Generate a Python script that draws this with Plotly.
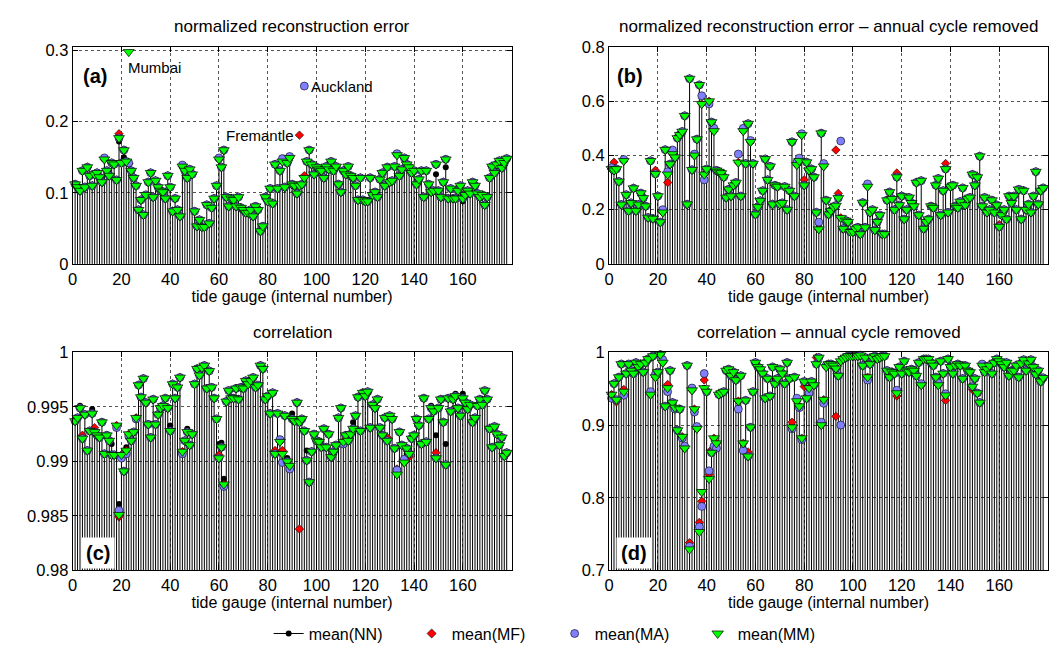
import plotly.graph_objects as go

# ---------------- data ----------------
gauges = list(range(1, 179))

# (a) normalized reconstruction error, mean(MM)
mm_a = [0.112, 0.108, 0.103, 0.131, 0.108, 0.136, 0.124, 0.110, 0.126, 0.128,
        0.122, 0.115, 0.147, 0.131, 0.124, 0.142, 0.140, 0.118, 0.177, 0.142,
        0.160, 0.144, 0.298, 0.131, 0.121, 0.110, 0.076, 0.090, 0.069, 0.097,
        0.115, 0.128, 0.094, 0.117, 0.108, 0.103, 0.101, 0.092, 0.124, 0.108,
        0.074, 0.092, 0.076, 0.067, 0.137, 0.131, 0.121, 0.133, 0.126, 0.074,
        0.053, 0.062, 0.052, 0.052, 0.083, 0.057, 0.079, 0.092, 0.110, 0.147,
        0.136, 0.160, 0.094, 0.081, 0.092, 0.090, 0.081, 0.094, 0.079, 0.076,
        0.072, 0.072, 0.076, 0.067, 0.081, 0.076, 0.046, 0.053, 0.094, 0.088,
        0.106, 0.085, 0.140, 0.106, 0.131, 0.144, 0.108, 0.142, 0.149, 0.112,
        0.110, 0.099, 0.110, 0.112, 0.121, 0.144, 0.160, 0.140, 0.126, 0.136,
        0.133, 0.131, 0.121, 0.137, 0.133, 0.144, 0.131, 0.137, 0.112, 0.101,
        0.131, 0.126, 0.137, 0.124, 0.121, 0.110, 0.090, 0.121, 0.090, 0.088,
        0.088, 0.121, 0.097, 0.101, 0.094, 0.119, 0.128, 0.110, 0.136, 0.115,
        0.117, 0.137, 0.153, 0.124, 0.133, 0.149, 0.140, 0.136, 0.128, 0.131,
        0.112, 0.119, 0.131, 0.094, 0.131, 0.112, 0.101, 0.103, 0.140, 0.103,
        0.094, 0.115, 0.147, 0.092, 0.106, 0.092, 0.092, 0.103, 0.110, 0.092,
        0.097, 0.103, 0.099, 0.115, 0.110, 0.099, 0.094, 0.097, 0.083, 0.094,
        0.121, 0.137, 0.128, 0.140, 0.145, 0.135, 0.142, 0.148]
# gauges where the other estimates differ visibly from mean(MM)
nn_a = {19: 0.172, 21: 0.150, 23: 0.140, 149: 0.126, 153: 0.136, 160: 0.088}
mf_a = {19: 0.183, 23: 0.141, 93: 0.181, 95: 0.124}
ma_a = {13: 0.149, 23: 0.142, 45: 0.139, 60: 0.149, 86: 0.148, 89: 0.151,
        95: 0.250, 133: 0.155}

# (b) normalized reconstruction error - annual cycle removed
mm_b = [0.350, 0.345, 0.350, 0.304, 0.219, 0.380, 0.255, 0.196, 0.225, 0.279,
        0.196, 0.219, 0.261, 0.243, 0.213, 0.171, 0.380, 0.167, 0.332, 0.250,
        0.154, 0.190, 0.421, 0.330, 0.368, 0.405, 0.393, 0.464, 0.476, 0.488,
        0.546, 0.220, 0.683, 0.347, 0.400, 0.460, 0.660, 0.590, 0.330, 0.350,
        0.600, 0.523, 0.490, 0.345, 0.340, 0.335, 0.320, 0.245, 0.275, 0.250,
        0.290, 0.300, 0.374, 0.250, 0.490, 0.370, 0.517, 0.450, 0.370, 0.183,
        0.210, 0.233, 0.270, 0.387, 0.310, 0.360, 0.220, 0.290, 0.285, 0.220,
        0.225, 0.285, 0.200, 0.270, 0.450, 0.250, 0.365, 0.380, 0.475, 0.290,
        0.375, 0.345, 0.350, 0.320, 0.190, 0.128, 0.482, 0.360, 0.235, 0.183,
        0.196, 0.210, 0.215, 0.243, 0.170, 0.130, 0.160, 0.155, 0.118, 0.118,
        0.130, 0.135, 0.110, 0.226, 0.135, 0.285, 0.190, 0.200, 0.125, 0.155,
        0.180, 0.110, 0.110, 0.235, 0.265, 0.240, 0.200, 0.320, 0.217, 0.250,
        0.165, 0.200, 0.245, 0.225, 0.213, 0.300, 0.180, 0.307, 0.130, 0.155,
        0.165, 0.213, 0.207, 0.290, 0.315, 0.180, 0.270, 0.350, 0.190, 0.285,
        0.290, 0.213, 0.207, 0.230, 0.280, 0.217, 0.240, 0.245, 0.330, 0.290,
        0.320, 0.397, 0.213, 0.245, 0.190, 0.200, 0.235, 0.190, 0.217, 0.137,
        0.180, 0.200, 0.165, 0.250, 0.225, 0.250, 0.200, 0.275, 0.165, 0.270,
        0.200, 0.220, 0.190, 0.250, 0.340, 0.220, 0.270, 0.280]
nn_b = {}
mf_b = {2: 0.375, 19: 0.345, 24: 0.300, 80: 0.310, 93: 0.420, 94: 0.260,
        118: 0.335, 138: 0.370, 160: 0.145}
ma_b = {1: 0.355, 6: 0.385, 22: 0.200, 24: 0.340, 26: 0.420, 35: 0.405,
        38: 0.620, 39: 0.310, 41: 0.590, 43: 0.500, 53: 0.405, 55: 0.500,
        58: 0.455, 77: 0.375, 78: 0.390, 79: 0.480, 86: 0.154, 88: 0.370,
        95: 0.453, 106: 0.295}

# (c) correlation
mm_c = [0.9937, 0.9940, 0.9949, 0.9921, 0.9943, 0.9910, 0.9928, 0.9944, 0.9927, 0.9924,
        0.9922, 0.9936, 0.9907, 0.9924, 0.9919, 0.9906, 0.9906, 0.9933, 0.9851, 0.9906,
        0.9891, 0.9910, 0.9925, 0.9919, 0.9927, 0.9940, 0.9970, 0.9959, 0.9976, 0.9954,
        0.9934, 0.9922, 0.9957, 0.9934, 0.9943, 0.9949, 0.9951, 0.9958, 0.9949, 0.9928,
        0.9971, 0.9958, 0.9968, 0.9977, 0.9909, 0.9919, 0.9927, 0.9915, 0.9925, 0.9971,
        0.9985, 0.9979, 0.9986, 0.9988, 0.9967, 0.9983, 0.9968, 0.9958, 0.9939, 0.9903,
        0.9913, 0.9879, 0.9955, 0.9965, 0.9958, 0.9958, 0.9967, 0.9957, 0.9968, 0.9967,
        0.9974, 0.9971, 0.9974, 0.9977, 0.9968, 0.9970, 0.9988, 0.9985, 0.9957, 0.9960,
        0.9944, 0.9963, 0.9907, 0.9944, 0.9918, 0.9907, 0.9942, 0.9900, 0.9896, 0.9939,
        0.9937, 0.9954, 0.9936, 0.9939, 0.9928, 0.9901, 0.9881, 0.9909, 0.9925, 0.9919,
        0.9918, 0.9913, 0.9930, 0.9913, 0.9925, 0.9904, 0.9909, 0.9915, 0.9940, 0.9949,
        0.9918, 0.9924, 0.9919, 0.9925, 0.9930, 0.9942, 0.9959, 0.9928, 0.9963, 0.9960,
        0.9964, 0.9931, 0.9952, 0.9949, 0.9957, 0.9931, 0.9924, 0.9940, 0.9919, 0.9942,
        0.9939, 0.9912, 0.9888, 0.9927, 0.9915, 0.9899, 0.9912, 0.9907, 0.9921, 0.9924,
        0.9939, 0.9933, 0.9916, 0.9958, 0.9918, 0.9939, 0.9949, 0.9946, 0.9903, 0.9949,
        0.9957, 0.9936, 0.9897, 0.9958, 0.9946, 0.9957, 0.9960, 0.9949, 0.9942, 0.9958,
        0.9954, 0.9948, 0.9952, 0.9936, 0.9940, 0.9951, 0.9957, 0.9952, 0.9965, 0.9957,
        0.9930, 0.9913, 0.9932, 0.9925, 0.9915, 0.9922, 0.9905, 0.9908]
nn_c = {3: 0.9951, 8: 0.9948, 16: 0.9916, 19: 0.9861, 22: 0.9913, 40: 0.9933,
        47: 0.9930, 60: 0.9916, 61: 0.9917, 62: 0.9884, 88: 0.9903, 90: 0.9944,
        96: 0.9910, 115: 0.9936, 137: 0.9907, 147: 0.9951, 149: 0.9924,
        153: 0.9916, 157: 0.9962, 160: 0.9962}
mf_c = {4: 0.9924, 9: 0.9931, 19: 0.9849, 60: 0.9906, 83: 0.9910, 86: 0.9910,
        93: 0.9838, 129: 0.9922, 133: 0.9893, 138: 0.9904, 149: 0.9908}
ma_c = {18: 0.9931, 19: 0.9855, 20: 0.9903, 22: 0.9907, 23: 0.9923, 26: 0.9939,
        45: 0.9907, 62: 0.9877, 85: 0.9920, 86: 0.9899, 89: 0.9893, 111: 0.9916,
        133: 0.9892, 136: 0.9902}

# (d) correlation - annual cycle removed
mm_d = [0.942, 0.957, 0.935, 0.966, 0.984, 0.946, 0.971, 0.984, 0.975, 0.971,
        0.986, 0.980, 0.984, 0.973, 0.986, 0.991, 0.942, 0.995, 0.966, 0.973,
        0.997, 0.986, 0.926, 0.951, 0.975, 0.931, 0.924, 0.893, 0.922, 0.884,
        0.868, 0.982, 0.729, 0.948, 0.922, 0.895, 0.753, 0.808, 0.951, 0.946,
        0.826, 0.862, 0.882, 0.875, 0.942, 0.944, 0.946, 0.975, 0.977, 0.968,
        0.973, 0.962, 0.933, 0.968, 0.875, 0.934, 0.857, 0.897, 0.946, 0.986,
        0.980, 0.977, 0.971, 0.937, 0.964, 0.940, 0.980, 0.957, 0.964, 0.977,
        0.971, 0.957, 0.986, 0.964, 0.897, 0.966, 0.933, 0.926, 0.882, 0.960,
        0.937, 0.951, 0.960, 0.955, 0.984, 0.993, 0.900, 0.935, 0.980, 0.984,
        0.984, 0.982, 0.978, 0.968, 0.988, 0.991, 0.993, 0.995, 0.995, 0.995,
        0.995, 0.995, 0.996, 0.982, 0.993, 0.966, 0.984, 0.993, 0.995, 0.991,
        0.993, 0.995, 0.995, 0.975, 0.966, 0.973, 0.971, 0.944, 0.980, 0.971,
        0.988, 0.975, 0.973, 0.977, 0.975, 0.968, 0.986, 0.955, 0.991, 0.991,
        0.991, 0.986, 0.982, 0.966, 0.955, 0.988, 0.971, 0.941, 0.991, 0.980,
        0.971, 0.982, 0.984, 0.982, 0.964, 0.982, 0.975, 0.973, 0.953, 0.964,
        0.944, 0.931, 0.982, 0.973, 0.977, 0.982, 0.971, 0.986, 0.991, 0.988,
        0.984, 0.980, 0.986, 0.968, 0.975, 0.975, 0.982, 0.966, 0.985, 0.990,
        0.975, 0.985, 0.990, 0.980, 0.970, 0.975, 0.960, 0.965]
nn_d = {}
mf_d = {3: 0.932, 6: 0.949, 24: 0.956, 33: 0.738, 37: 0.766, 38: 0.795,
        39: 0.962, 41: 0.832, 42: 0.866, 57: 0.863, 75: 0.904, 80: 0.953,
        85: 0.993, 93: 0.912, 118: 0.940, 138: 0.934, 149: 0.949}
ma_d = {1: 0.937, 6: 0.941, 17: 0.946, 19: 0.970, 22: 0.990, 24: 0.946,
        27: 0.922, 30: 0.882, 31: 0.871, 33: 0.733, 34: 0.951, 35: 0.918,
        36: 0.898, 37: 0.760, 38: 0.788, 39: 0.971, 41: 0.837, 43: 0.871,
        44: 0.868, 53: 0.922, 55: 0.865, 75: 0.895, 77: 0.937, 78: 0.924,
        79: 0.880, 82: 0.944, 87: 0.904, 88: 0.930, 89: 0.982, 95: 0.900,
        106: 0.962, 118: 0.948, 128: 0.957, 135: 0.958, 138: 0.943, 153: 0.984}

titles = ["normalized reconstruction error",
          "normalized reconstruction error \u2013 annual cycle removed",
          "correlation",
          "correlation \u2013 annual cycle removed"]
panel_labels = ["(a)", "(b)", "(c)", "(d)"]
x_ticks = [0, 20, 40, 60, 80, 100, 120, 140, 160]
y_ticks = [[0, 0.1, 0.2, 0.3],
           [0, 0.2, 0.4, 0.6, 0.8],
           [0.98, 0.985, 0.99, 0.995, 1.0],
           [0.7, 0.8, 0.9, 1.0]]
y_ticktext = [["0", "0.1", "0.2", "0.3"],
              ["0", "0.2", "0.4", "0.6", "0.8"],
              ["0.98", "0.985", "0.99", "0.995", "1"],
              ["0.7", "0.8", "0.9", "1"]]
y_ranges = [[0, 0.305], [0, 0.8], [0.98, 1.0], [0.7, 1.0]]
series_names = ["mean(NN)", "mean(MF)", "mean(MA)", "mean(MM)"]

panels = [(mm_a, nn_a, mf_a, ma_a), (mm_b, nn_b, mf_b, ma_b),
          (mm_c, nn_c, mf_c, ma_c), (mm_d, nn_d, mf_d, ma_d)]

# ---------------- layout geometry (pixels) ----------------
W, H = 1050, 664
x_px = [(68, 509), (607, 1048), (68, 509), (607, 1048)]
y_px = [(39, 262), (39, 262), (353, 577), (353, 577)]

FONT = "Liberation Sans, Arial, Helvetica, sans-serif"
GREEN, RED, BLUE = "#00ff00", "#ff0000", "#8080ff"

fig = go.Figure()
annotations = []
layout_axes = {}

for i, (mm, nnd, mfd, mad) in enumerate(panels):
    sfx = "" if i == 0 else str(i + 1)
    xa, ya = "x" + sfx, "y" + sfx
    nn = [nnd.get(g, v) for g, v in zip(gauges, mm)]
    mf = [mfd.get(g, v) for g, v in zip(gauges, mm)]
    ma = [mad.get(g, v) for g, v in zip(gauges, mm)]

    xs, ys = [], []
    for g, v in zip(gauges, nn):
        xs += [g, g, None]
        ys += [0, v, None]
    fig.add_trace(go.Scatter(x=xs, y=ys, mode="lines", xaxis=xa, yaxis=ya,
                             line=dict(color="black", width=1),
                             showlegend=False, hoverinfo="skip"))
    fig.add_trace(go.Scatter(x=gauges, y=nn, mode="markers", xaxis=xa, yaxis=ya,
                             marker=dict(symbol="circle", size=6, color="black"),
                             showlegend=False, cliponaxis=False))
    fig.add_trace(go.Scatter(x=gauges, y=mf, mode="markers", xaxis=xa, yaxis=ya,
                             marker=dict(symbol="diamond", size=6.5, color=RED,
                                         line=dict(color="black", width=0.6)),
                             showlegend=False, cliponaxis=False))
    fig.add_trace(go.Scatter(x=gauges, y=ma, mode="markers", xaxis=xa, yaxis=ya,
                             marker=dict(symbol="circle", size=8, color=BLUE,
                                         line=dict(color="black", width=0.6)),
                             showlegend=False, cliponaxis=False))
    fig.add_trace(go.Scatter(x=gauges, y=mm, mode="markers", xaxis=xa, yaxis=ya,
                             marker=dict(symbol="triangle-down", size=9.5, color=GREEN,
                                         line=dict(color="black", width=0.7)),
                             showlegend=False, cliponaxis=False))

    x0, x1 = x_px[i]
    y0, y1 = y_px[i]
    axis_common = dict(showline=True, linecolor="black", linewidth=1, mirror="ticks",
                       ticks="inside", ticklen=5, tickcolor="black",
                       showgrid=True, gridcolor="#555555", griddash="dot", gridwidth=1,
                       zeroline=False, tickfont=dict(family=FONT, size=16.5, color="black"))
    layout_axes["xaxis" + sfx] = dict(axis_common, domain=[x0 / W, x1 / W], range=[0, 180],
                                      tickvals=x_ticks, anchor=ya,
                                      title=dict(text="tide gauge (internal number)",
                                                 font=dict(family=FONT, size=16, color="black"),
                                                 standoff=0))
    layout_axes["yaxis" + sfx] = dict(axis_common, domain=[1 - y1 / H, 1 - y0 / H],
                                      range=y_ranges[i], tickvals=y_ticks[i],
                                      ticktext=y_ticktext[i], anchor=xa)
    annotations.append(dict(text=titles[i], xref="paper", yref="paper",
                            x=(x0 + x1) / 2 / W, y=1 - (y0 - 21) / H,
                            xanchor="center", yanchor="middle", showarrow=False,
                            font=dict(family=FONT, size=17, color="black")))

# panel labels
annotations.append(dict(text="<b>(a)</b>", xref="x domain", yref="y domain", x=0.02, y=0.865,
                        xanchor="left", yanchor="middle", showarrow=False,
                        font=dict(family=FONT, size=20, color="black")))
annotations.append(dict(text="<b>(b)</b>", xref="x2 domain", yref="y2 domain", x=0.014, y=0.865,
                        xanchor="left", yanchor="middle", showarrow=False,
                        font=dict(family=FONT, size=20, color="black")))
annotations.append(dict(text="<b>(c)</b>", xref="x3 domain", yref="y3 domain", x=0.02, y=0.0,
                        xanchor="left", yanchor="bottom", showarrow=False, bgcolor="white",
                        borderpad=4, yshift=1,
                        font=dict(family=FONT, size=20, color="black")))
annotations.append(dict(text="<b>(d)</b>", xref="x4 domain", yref="y4 domain", x=0.016, y=0.0,
                        xanchor="left", yanchor="bottom", showarrow=False, bgcolor="white",
                        borderpad=4, yshift=1,
                        font=dict(family=FONT, size=20, color="black")))

# station names in (a)
annotations.append(dict(text="Mumbai", xref="x", yref="y", x=23, y=mm_a[22],
                        xanchor="left", yanchor="top", xshift=-3, yshift=-5, showarrow=False,
                        font=dict(family=FONT, size=15, color="black")))
annotations.append(dict(text="Auckland", xref="x", yref="y", x=95, y=ma_a[95],
                        xanchor="left", yanchor="middle", xshift=5, showarrow=False,
                        font=dict(family=FONT, size=15, color="black")))
annotations.append(dict(text="Fremantle", xref="x", yref="y", x=93, y=mf_a[93],
                        xanchor="right", yanchor="middle", xshift=-3, showarrow=False,
                        font=dict(family=FONT, size=15, color="black")))

# legend entries
fig.add_trace(go.Scatter(x=[None], y=[None], mode="lines+markers", name=series_names[0],
                         line=dict(color="black", width=1),
                         marker=dict(symbol="circle", size=6, color="black")))
fig.add_trace(go.Scatter(x=[None], y=[None], mode="markers", name=series_names[1],
                         marker=dict(symbol="diamond", size=7, color=RED,
                                     line=dict(color="black", width=0.6))))
fig.add_trace(go.Scatter(x=[None], y=[None], mode="markers", name=series_names[2],
                         marker=dict(symbol="circle", size=8, color=BLUE,
                                     line=dict(color="black", width=0.6))))
fig.add_trace(go.Scatter(x=[None], y=[None], mode="markers", name=series_names[3],
                         marker=dict(symbol="triangle-down", size=10, color=GREEN,
                                     line=dict(color="black", width=0.7))))

fig.update_layout(width=W, height=H, margin=dict(l=0, r=0, t=0, b=0),
                  paper_bgcolor="white", plot_bgcolor="white",
                  font=dict(family=FONT, color="black"),
                  showlegend=True,
                  legend=dict(orientation="h", x=0.526, xanchor="center", y=1 - 642 / H,
                              yanchor="middle", font=dict(family=FONT, size=16),
                              itemwidth=30, entrywidth=98, bgcolor="rgba(0,0,0,0)"),
                  annotations=annotations, **layout_axes)

# the page's default 8px body margin would shift the whole figure; remove it
fig.write_html("out.html", config={"displayModeBar": False},
               post_script="document.body.style.margin='0px';")
